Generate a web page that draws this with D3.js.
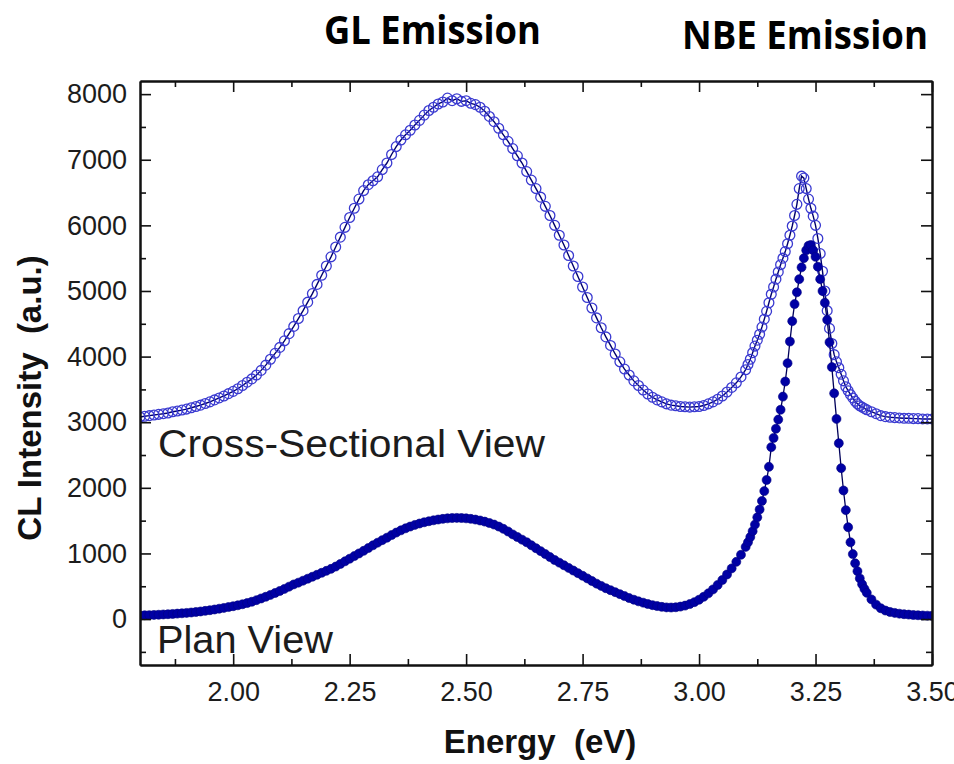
<!DOCTYPE html>
<html>
<head>
<meta charset="utf-8">
<script src="https://cdn.jsdelivr.net/npm/d3@7/dist/d3.min.js"></script>
<style>
  body { margin: 0; background: #fff; }
  svg { display: block; }
  text { white-space: pre; }
</style>
</head>
<body>
<svg id="chart" width="954" height="764"></svg>
<script>
// Photon energy (eV) of each spectrum point
const energy = [
  1.80,1.81,1.82,1.83,1.84,1.85,1.86,1.87,1.88,1.89,
  1.90,1.91,1.92,1.93,1.94,1.95,1.96,1.97,1.98,1.99,
  2.00,2.01,2.02,2.03,2.04,2.05,2.06,2.07,2.08,2.09,
  2.10,2.11,2.12,2.13,2.14,2.15,2.16,2.17,2.18,2.19,
  2.20,2.21,2.22,2.23,2.24,2.25,2.26,2.27,2.28,2.29,
  2.30,2.31,2.32,2.33,2.34,2.35,2.36,2.37,2.38,2.39,
  2.40,2.41,2.42,2.43,2.44,2.45,2.46,2.47,2.48,2.49,
  2.50,2.51,2.52,2.53,2.54,2.55,2.56,2.57,2.58,2.59,
  2.60,2.61,2.62,2.63,2.64,2.65,2.66,2.67,2.68,2.69,
  2.70,2.71,2.72,2.73,2.74,2.75,2.76,2.77,2.78,2.79,
  2.80,2.81,2.82,2.83,2.84,2.85,2.86,2.87,2.88,2.89,
  2.90,2.91,2.92,2.93,2.94,2.95,2.96,2.97,2.98,2.99,
  3.00,3.01,3.02,3.03,3.04,3.05,3.06,3.07,3.08,3.09,
  3.100,
  3.105,3.110,3.115,3.120,3.125,3.130,3.135,3.140,3.145,3.150,
  3.155,3.160,3.165,3.170,3.175,3.180,3.185,3.190,3.195,3.200,
  3.205,3.210,3.215,3.220,3.225,3.230,3.235,3.240,3.245,3.250,
  3.255,3.260,3.265,3.270,3.275,3.280,3.285,3.290,3.295,3.300,
  3.305,3.310,3.315,3.320,3.325,3.330,3.335,3.340,3.345,3.350,
  3.355,3.360,
  3.37,3.38,3.39,3.40,3.41,3.42,3.43,3.44,3.45,3.46,3.47,3.48,3.49,3.50
];

// CL intensity (a.u.), cross-sectional view
const crossSectional = [
  3080,3090,3100,3110,3120,3130,3140,3160,3170,3185,
  3200,3220,3240,3260,3285,3310,3340,3370,3400,3435,
  3470,3510,3560,3610,3660,3720,3790,3870,3960,4050,
  4140,4240,4350,4460,4580,4700,4830,4960,5100,5240,
  5380,5520,5670,5820,5970,6120,6260,6400,6530,6620,
  6680,6740,6850,6950,7080,7200,7300,7380,7450,7530,
  7600,7680,7750,7800,7850,7880,7940,7900,7930,7890,
  7900,7860,7840,7800,7740,7660,7580,7480,7380,7280,
  7170,7060,6950,6820,6690,6560,6430,6290,6150,6000,
  5850,5700,5540,5380,5220,5060,4900,4740,4590,4440,
  4300,4170,4040,3920,3810,3720,3630,3560,3490,3430,
  3380,3340,3310,3280,3260,3250,3240,3235,3230,3235,
  3240,3255,3280,3310,3350,3400,3460,3530,3600,3690,
  3800,
  3880,3960,4060,4160,4250,4340,4450,4570,4690,4820,
  4950,5060,5180,5290,5400,5500,5600,5720,5850,5990,
  6150,6320,6560,6750,6720,6560,6400,6260,6140,6000,
  5800,5570,5300,5000,4700,4430,4200,4030,3920,3830,
  3730,3630,3540,3480,3420,3370,3320,3280,3250,3230,
  3210,3190,
  3160,3130,3100,3085,3075,3070,3065,3060,3060,3055,3055,3050,3050,3050
];

// CL intensity (a.u.), plan view
const planView = [
  55,58,60,63,66,70,74,78,83,88,
  94,100,108,116,125,135,146,158,170,183,
  196,210,226,244,264,288,314,340,368,398,
  428,460,494,528,555,585,615,645,675,705,
  735,765,800,840,880,920,960,1000,1040,1082,
  1124,1164,1203,1240,1280,1318,1352,1383,1410,1435,
  1456,1475,1491,1505,1517,1527,1535,1540,1542,1540,
  1535,1527,1516,1502,1485,1464,1440,1410,1375,1335,
  1290,1250,1210,1170,1125,1080,1035,990,945,900,
  860,820,780,740,700,660,620,580,540,505,
  470,440,410,380,350,320,295,270,250,230,
  212,198,186,178,176,180,190,205,228,258,
  295,340,392,452,520,596,680,772,872,980,
  1100,
  1170,1250,1340,1440,1550,1670,1800,1950,2120,2320,
  2620,2760,2900,3040,3190,3390,3620,3900,4230,4540,
  4800,4980,5180,5360,5500,5620,5690,5700,5620,5520,
  5370,5180,5000,4820,4560,4220,3840,3440,3050,2680,
  2300,1960,1660,1400,1170,990,850,730,620,530,
  460,400,
  300,220,165,130,108,94,82,74,68,62,58,55,52,50
];

const xTickValues = [2.00, 2.25, 2.50, 2.75, 3.00, 3.25, 3.50];
const xMinorTicks = [1.875, 2.125, 2.375, 2.625, 2.875, 3.125, 3.375];
const yTickValues = [0, 1000, 2000, 3000, 4000, 5000, 6000, 7000, 8000];
const yMinorTicks = [-500, 500, 1500, 2500, 3500, 4500, 5500, 6500, 7500];

const seriesLabels = ["Cross-Sectional View", "Plan View"];
const bandLabels = ["GL Emission", "NBE Emission"];
const xTitle = "Energy  (eV)";
const yTitle = "CL Intensity  (a.u.)";

const svg = d3.select("#chart");
const plotLeft = 140, plotRight = 932, plotTop = 81, plotBottom = 665;

const x = d3.scaleLinear().domain([1.8, 3.5]).range([plotLeft, plotRight]);
const y = d3.scaleLinear().domain([-700, 8200]).range([plotBottom, plotTop]);

const tickFont = "'Liberation Sans', Arial, sans-serif";

// ---- data ----
svg.append("clipPath").attr("id", "plotClip")
  .append("rect").attr("x", plotLeft).attr("y", plotTop)
  .attr("width", plotRight - plotLeft).attr("height", plotBottom - plotTop);
const plot = svg.append("g").attr("clip-path", "url(#plotClip)");

const upper = energy.map((e, i) => [e, crossSectional[i]]);
const lower = energy.map((e, i) => [e, planView[i]]);
const line = d3.line().x(d => x(d[0])).y(d => y(d[1]));

plot.append("path").datum(upper)
  .attr("d", line).attr("fill", "none")
  .attr("stroke", "#00006e").attr("stroke-width", 1.4);
plot.append("g").selectAll("circle").data(upper).join("circle")
  .attr("cx", d => x(d[0])).attr("cy", d => y(d[1])).attr("r", 4.9)
  .attr("fill", "none").attr("stroke", "#3a3ad0").attr("stroke-width", 1.3);

plot.append("path").datum(lower)
  .attr("d", line).attr("fill", "none")
  .attr("stroke", "#00005a").attr("stroke-width", 1.3);
plot.append("g").selectAll("circle").data(lower).join("circle")
  .attr("cx", d => x(d[0])).attr("cy", d => y(d[1])).attr("r", 4.5)
  .attr("fill", "#0000a4").attr("stroke", "#000080").attr("stroke-width", 0.6);

// ---- axes (ticks point inward, mirrored on top/right) ----
function styleAxis(g) {
  g.selectAll(".domain").attr("stroke", "#111").attr("stroke-width", 2);
  g.selectAll(".tick line").attr("stroke", "#111").attr("stroke-width", 1.6);
  g.selectAll(".tick text").attr("fill", "#1c1c1c")
    .style("font-family", tickFont).style("font-size", "27px");
}

svg.append("g").attr("transform", `translate(0,${plotBottom})`)
  .call(d3.axisBottom(x).tickValues(xTickValues).tickFormat(d3.format(".2f"))
    .tickSize(-11).tickSizeOuter(0).tickPadding(17))
  .call(styleAxis);
svg.append("g").attr("transform", `translate(0,${plotBottom})`)
  .call(d3.axisBottom(x).tickValues(xMinorTicks).tickFormat("").tickSize(-6).tickSizeOuter(0))
  .call(styleAxis);

svg.append("g").attr("transform", `translate(0,${plotTop})`)
  .call(d3.axisTop(x).tickValues(xTickValues).tickFormat("").tickSize(-11).tickSizeOuter(0))
  .call(styleAxis);
svg.append("g").attr("transform", `translate(0,${plotTop})`)
  .call(d3.axisTop(x).tickValues(xMinorTicks).tickFormat("").tickSize(-6).tickSizeOuter(0))
  .call(styleAxis);

svg.append("g").attr("transform", `translate(${plotLeft},0)`)
  .call(d3.axisLeft(y).tickValues(yTickValues).tickFormat(d3.format("d"))
    .tickSize(-11).tickSizeOuter(0).tickPadding(13))
  .call(styleAxis);
svg.append("g").attr("transform", `translate(${plotLeft},0)`)
  .call(d3.axisLeft(y).tickValues(yMinorTicks).tickFormat("").tickSize(-6).tickSizeOuter(0))
  .call(styleAxis);

svg.append("g").attr("transform", `translate(${plotRight},0)`)
  .call(d3.axisRight(y).tickValues(yTickValues).tickFormat("").tickSize(-11).tickSizeOuter(0))
  .call(styleAxis);
svg.append("g").attr("transform", `translate(${plotRight},0)`)
  .call(d3.axisRight(y).tickValues(yMinorTicks).tickFormat("").tickSize(-6).tickSizeOuter(0))
  .call(styleAxis);

// ---- axis titles ----
svg.append("text")
  .attr("x", 540).attr("y", 753)
  .attr("text-anchor", "middle")
  .style("font-family", tickFont).style("font-weight", "bold").style("font-size", "33px")
  .attr("fill", "#111")
  .text(xTitle);

svg.append("text")
  .attr("transform", "translate(41,398) rotate(-90)")
  .attr("text-anchor", "middle")
  .style("font-family", tickFont).style("font-weight", "bold").style("font-size", "33px")
  .attr("fill", "#111")
  .text(yTitle);

// ---- in-plot series labels ----
svg.append("text")
  .attr("x", 158).attr("y", 457)
  .attr("textLength", 387).attr("lengthAdjust", "spacingAndGlyphs")
  .style("font-family", tickFont).style("font-size", "38px")
  .attr("fill", "#1c1c1c")
  .text(seriesLabels[0]);

svg.append("text")
  .attr("x", 157).attr("y", 653)
  .attr("textLength", 176).attr("lengthAdjust", "spacingAndGlyphs")
  .style("font-family", tickFont).style("font-size", "38px")
  .attr("fill", "#1c1c1c")
  .text(seriesLabels[1]);

// ---- emission band headings ----
svg.append("text")
  .attr("x", 324).attr("y", 44)
  .attr("textLength", 217).attr("lengthAdjust", "spacingAndGlyphs")
  .style("font-family", "'Open Sans', 'Noto Sans', sans-serif")
  .style("font-weight", "bold").style("font-size", "40px")
  .attr("fill", "#000")
  .text(bandLabels[0]);

svg.append("text")
  .attr("x", 682).attr("y", 49)
  .attr("textLength", 246).attr("lengthAdjust", "spacingAndGlyphs")
  .style("font-family", "'Open Sans', 'Noto Sans', sans-serif")
  .style("font-weight", "bold").style("font-size", "40px")
  .attr("fill", "#000")
  .text(bandLabels[1]);
</script>
</body>
</html>
